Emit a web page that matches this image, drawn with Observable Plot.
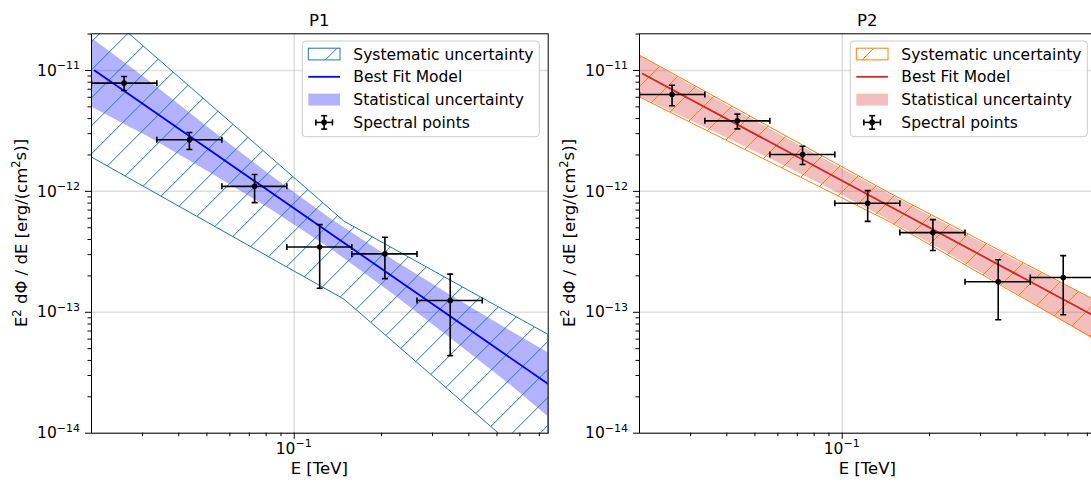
<!DOCTYPE html>
<html><head><meta charset="utf-8">
<script src="https://cdn.jsdelivr.net/npm/d3@7"></script>
<script src="https://cdn.jsdelivr.net/npm/@observablehq/plot@0.6"></script>
<style>
html,body{margin:0;padding:0;background:#fff;}
body{width:1091px;height:483px;overflow:hidden;position:relative;font-family:"DejaVu Sans",sans-serif;}
.panel{position:absolute;top:0;width:560px;height:483px;}
.panel svg{max-width:none !important;background:transparent !important;}
</style></head><body>
<svg width="0" height="0" style="position:absolute;left:0;top:0">
  <defs>
    <pattern id="hatchA" patternUnits="userSpaceOnUse" width="28" height="28" patternTransform="translate(21.3,0)">
      <path d="M-2,2L2,-2M0,28L28,0M26,30L30,26" stroke="#1f77b4" stroke-width="1" fill="none"/>
    </pattern>
    <pattern id="hatchB" patternUnits="userSpaceOnUse" width="28" height="28" patternTransform="translate(10,0)">
      <path d="M-2,2L2,-2M0,28L28,0M26,30L30,26" stroke="#ff7f0e" stroke-width="1" fill="none"/>
    </pattern>
  </defs>
</svg>
<div id="p1" class="panel" style="left:0"></div>
<div id="p2" class="panel" style="left:548.3px"></div>
<script>
// ---------- data ----------
const energy   = [0.0259, 0.0435, 0.0730, 0.1224, 0.2054, 0.345, 0.578];
const energyLo = [0.0200, 0.0336, 0.0563, 0.0943, 0.158, 0.265, 0.445];
const energyHi = [0.0336, 0.0563, 0.0943, 0.158, 0.265, 0.445, 0.750];

const p1Flux   = [7.85e-12, 2.67e-12, 1.10e-12, 3.47e-13, 3.04e-13, 1.25e-13];
const p1FluxLo = [6.83e-12, 2.22e-12, 8.07e-13, 1.58e-13, 1.90e-13, 4.38e-14];
const p1FluxHi = [8.92e-12, 3.07e-12, 1.38e-12, 5.31e-13, 4.17e-13, 2.07e-13];

const p2Flux   = [6.33e-12, 3.83e-12, 2.02e-12, 7.97e-13, 4.56e-13, 1.79e-13, 1.94e-13];
const p2FluxLo = [5.10e-12, 3.29e-12, 1.67e-12, 5.65e-13, 3.24e-13, 8.68e-14, 9.55e-14];
const p2FluxHi = [7.55e-12, 4.35e-12, 2.36e-12, 1.015e-12, 5.84e-13, 2.72e-13, 2.94e-13];

const p1ModelE = [0.0205, 0.751];
const p1ModelF = [1.0e-11, 2.55e-14];
const p2ModelE = [0.0205, 0.751];
const p2ModelF = [9.39e-12, 9.13e-14];

const p1StatE  = [0.0200, 0.03195, 0.05145, 0.08286, 0.1334, 0.2148, 0.3459, 0.5570, 0.751];
const p1StatHi = [1.858e-11, 8.03e-12, 3.27e-12, 1.357e-12, 5.95e-13, 2.80e-13, 1.385e-13, 7.00e-14, 4.63e-14];
const p1StatLo = [4.99e-12, 2.76e-12, 1.422e-12, 7.10e-13, 3.36e-13, 1.466e-13, 6.10e-14, 2.50e-14, 1.366e-14];

const p2StatE  = [0.0200, 0.03238, 0.05215, 0.08397, 0.1352, 0.2177, 0.3506, 0.5646, 0.751];
const p2StatHi = [1.331e-11, 6.87e-12, 3.63e-12, 1.927e-12, 1.039e-12, 5.67e-13, 3.13e-13, 1.748e-13, 1.245e-13];
const p2StatLo = [6.09e-12, 3.52e-12, 2.04e-12, 1.154e-12, 6.33e-13, 3.34e-13, 1.715e-13, 8.65e-14, 5.76e-14];

const p1SysE  = [0.0200, 0.149, 0.751];
const p1SysHi = [3.76e-11, 5.62e-13, 6.52e-14];
const p1SysLo = [1.915e-12, 1.272e-13, 4.4e-15];
const p2SysE  = [0.0200, 0.1464, 0.751];
const p2SysHi = [1.331e-11, 9.59e-13, 1.24e-13];
const p2SysLo = [6.01e-12, 5.55e-13, 5.89e-14];

// ---------- ticks & text ----------
const xMajorTicks  = [0.1];
const xMajorExp    = ["\u22121"];
const xMinorTicks  = [0.03, 0.04, 0.05, 0.06, 0.07, 0.08, 0.09, 0.2, 0.3, 0.4, 0.5, 0.6, 0.7];
const yMajorTicks  = [1e-14, 1e-13, 1e-12, 1e-11];
const yMajorExp    = ["\u221214", "\u221213", "\u221212", "\u221211"];
const yMinorTicks  = [2e-14, 3e-14, 4e-14, 5e-14, 6e-14, 7e-14, 8e-14, 9e-14,
                      2e-13, 3e-13, 4e-13, 5e-13, 6e-13, 7e-13, 8e-13, 9e-13,
                      2e-12, 3e-12, 4e-12, 5e-12, 6e-12, 7e-12, 8e-12, 9e-12, 2e-11];
const panelTitles  = ["P1", "P2"];
const xLabel = "E [TeV]";
const yLabelMain = ["E", "2", " d\u03A6 / dE [erg/(cm", "2", "s)]"];
const legendLabels = ["Systematic uncertainty", "Best Fit Model", "Statistical uncertainty", "Spectral points"];

// ---------- helpers ----------
const NS = "http://www.w3.org/2000/svg";
function el(tag, attrs, text) {
  const e = document.createElementNS(NS, tag);
  for (const k in attrs) e.setAttribute(k, attrs[k]);
  if (text != null) e.textContent = text;
  return e;
}
const capV = {draw(ctx, size) { const h = Math.sqrt(size / Math.PI); ctx.moveTo(0, -h); ctx.lineTo(0, h); }};
const capH = {draw(ctx, size) { const h = Math.sqrt(size / Math.PI); ctx.moveTo(-h, 0); ctx.lineTo(h, 0); }};

function powerLabel(attrs, exp) {
  const t = el("text", {...attrs, "font-size": "15.5px", fill: "black"});
  t.appendChild(el("tspan", {}, "10"));
  t.appendChild(el("tspan", {"font-size": "11px", dy: "-0.62em"}, exp));
  return t;
}

function legendMark(lineColor, sysColor, pattern) {
  return (index, scales, values, dims) => {
    const g = el("g", {"text-anchor": "start"});
    const fr = dims.width - dims.marginRight;
    const bw = 237, bh = 95.7;
    const bx = fr - 8.4 - bw, by = dims.marginTop + 7.7;
    g.appendChild(el("rect", {x: bx, y: by, width: bw, height: bh, rx: 3.5, fill: "white", "fill-opacity": 0.8, stroke: "#cccccc", "stroke-width": 1}));
    const x0 = bx + 6, w = 31.7, x1 = x0 + w, cx = (x0 + x1) / 2;
    legendLabels.forEach((lab, i) => {
      const cy = by + 13 + 22.8 * i;
      if (i === 0) g.appendChild(el("rect", {x: x0, y: cy - 5.8, width: w, height: 11.7, fill: `url(#${pattern})`, stroke: sysColor, "stroke-width": 1}));
      if (i === 1) g.appendChild(el("line", {x1: x0, x2: x1, y1: cy, y2: cy, stroke: lineColor, "stroke-width": 1.8}));
      if (i === 2) g.appendChild(el("rect", {x: x0, y: cy - 6, width: w, height: 12, fill: lineColor, "fill-opacity": 0.3}));
      if (i === 3) {
        const s = {stroke: "black", "stroke-width": 1.6};
        g.appendChild(el("line", {x1: cx - 8.3, x2: cx + 8.3, y1: cy, y2: cy, ...s}));
        g.appendChild(el("line", {x1: cx, x2: cx, y1: cy - 6.7, y2: cy + 6.7, ...s}));
        g.appendChild(el("line", {x1: cx - 8.3, x2: cx - 8.3, y1: cy - 3, y2: cy + 3, ...s}));
        g.appendChild(el("line", {x1: cx + 8.3, x2: cx + 8.3, y1: cy - 3, y2: cy + 3, ...s}));
        g.appendChild(el("line", {x1: cx - 3, x2: cx + 3, y1: cy - 6.7, y2: cy - 6.7, ...s}));
        g.appendChild(el("line", {x1: cx - 3, x2: cx + 3, y1: cy + 6.7, y2: cy + 6.7, ...s}));
        g.appendChild(el("circle", {cx, cy, r: 2.8, fill: "black"}));
      }
      g.appendChild(el("text", {x: bx + 51, y: cy, dy: "0.36em", "text-anchor": "start", "font-size": "15.5px", fill: "black"}, lab));
    });
    return g;
  };
}

function annotMark(title) {
  return (index, scales, values, dims) => {
    const g = el("g", {"fill": "black"});
    const cx = (dims.marginLeft + dims.width - dims.marginRight) / 2;
    const cy = (dims.marginTop + dims.height - dims.marginBottom) / 2;
    const bottom = dims.height - dims.marginBottom;
    g.appendChild(el("text", {x: cx, y: 26, "text-anchor": "middle", "font-size": "16.5px"}, title));
    g.appendChild(el("text", {x: cx, y: 474, "text-anchor": "middle", "font-size": "16.5px"}, xLabel));
    const yl = el("text", {transform: `translate(27,${cy}) rotate(-90)`, "text-anchor": "middle", "font-size": "16.5px"});
    yLabelMain.forEach((part, i) => {
      const sup = (i === 1 || i === 3);
      const prevSup = (i === 2 || i === 4);
      const attrs = {};
      if (sup) { attrs["font-size"] = "11.5px"; attrs.dy = "-0.55em"; }
      if (prevSup) { attrs.dy = "0.36em"; }
      yl.appendChild(el("tspan", attrs, part));
    });
    g.appendChild(yl);
    xMajorTicks.forEach((v, i) => {
      g.appendChild(powerLabel({x: scales.x(v), y: bottom + 21, "text-anchor": "middle"}, xMajorExp[i]));
    });
    yMajorTicks.forEach((v, i) => {
      g.appendChild(powerLabel({x: dims.marginLeft - 11, y: scales.y(v) + 5.7, "text-anchor": "end"}, yMajorExp[i]));
    });
    return g;
  };
}

function panel(cfg) {
  const pts = cfg.flux.map((f, i) => ({e: energy[i], lo: energyLo[i], hi: energyHi[i], f, flo: cfg.fluxLo[i], fhi: cfg.fluxHi[i]}));
  const model = cfg.modelE.map((e, i) => ({e, f: cfg.modelF[i]}));
  const stat = cfg.statE.map((e, i) => ({e, lo: cfg.statLo[i], hi: cfg.statHi[i]}));
  const sys = cfg.sysE.map((e, i) => ({e, lo: cfg.sysLo[i], hi: cfg.sysHi[i]}));
  const ebar = {stroke: "black", strokeWidth: 1.6, clip: true};
  const capStyle = {stroke: "black", strokeWidth: 1.6, fill: "none", r: 3, clip: true};
  return Plot.plot({
    width: 560, height: 483,
    marginLeft: 91, marginRight: 12.3, marginTop: 33.3, marginBottom: 50.3,
    x: {type: "log", domain: [0.02, 0.751], label: null},
    y: {type: "log", domain: [1e-14, 2.01e-11], label: null},
    style: {fontFamily: "DejaVu Sans", fontSize: "15px", color: "black", background: "transparent"},
    marks: [
      Plot.gridX(xMajorTicks, {stroke: "#b0b0b0", strokeOpacity: 0.4, strokeWidth: 1.5}),
      Plot.gridY(yMajorTicks, {stroke: "#b0b0b0", strokeOpacity: 0.4, strokeWidth: 1.5}),
      Plot.areaY(stat, {x: "e", y1: "lo", y2: "hi", fill: cfg.lineColor, fillOpacity: 0.3, clip: true}),
      Plot.areaY(sys, {x: "e", y1: "lo", y2: "hi", fill: `url(#${cfg.pattern})`, stroke: cfg.sysColor, strokeWidth: 1, clip: true}),
      Plot.line(model, {x: "e", y: "f", stroke: cfg.lineColor, strokeWidth: 1.8, clip: true}),
      Plot.link(pts, {x1: "lo", x2: "hi", y1: "f", y2: "f", ...ebar}),
      Plot.link(pts, {x1: "e", x2: "e", y1: "flo", y2: "fhi", ...ebar}),
      Plot.dot(pts, {x: "lo", y: "f", symbol: capV, ...capStyle}),
      Plot.dot(pts, {x: "hi", y: "f", symbol: capV, ...capStyle}),
      Plot.dot(pts, {x: "e", y: "flo", symbol: capH, ...capStyle}),
      Plot.dot(pts, {x: "e", y: "fhi", symbol: capH, ...capStyle}),
      Plot.dot(pts, {x: "e", y: "f", r: 2.8, fill: "black", stroke: null, clip: true}),
      Plot.axisX(xMinorTicks, {tickSize: 3.5, tickFormat: () => "", label: null}),
      Plot.axisX(xMajorTicks, {tickSize: 6, tickFormat: () => "", label: null}),
      Plot.axisY(yMinorTicks, {tickSize: 3.5, tickFormat: () => "", label: null}),
      Plot.axisY(yMajorTicks, {tickSize: 6, tickFormat: () => "", label: null}),
      Plot.frame({stroke: "black", strokeWidth: 1}),
      legendMark(cfg.lineColor, cfg.sysColor, cfg.pattern),
      annotMark(cfg.title)
    ]
  });
}

document.getElementById("p1").appendChild(panel({
  title: panelTitles[0], flux: p1Flux, fluxLo: p1FluxLo, fluxHi: p1FluxHi,
  modelE: p1ModelE, modelF: p1ModelF, statE: p1StatE, statHi: p1StatHi, statLo: p1StatLo,
  sysE: p1SysE, sysHi: p1SysHi, sysLo: p1SysLo,
  lineColor: "#0000ff", sysColor: "#1f77b4", pattern: "hatchA"
}));
document.getElementById("p2").appendChild(panel({
  title: panelTitles[1], flux: p2Flux, fluxLo: p2FluxLo, fluxHi: p2FluxHi,
  modelE: p2ModelE, modelF: p2ModelF, statE: p2StatE, statHi: p2StatHi, statLo: p2StatLo,
  sysE: p2SysE, sysHi: p2SysHi, sysLo: p2SysLo,
  lineColor: "#d62728", sysColor: "#ff7f0e", pattern: "hatchB"
}));
</script>
</body></html>
